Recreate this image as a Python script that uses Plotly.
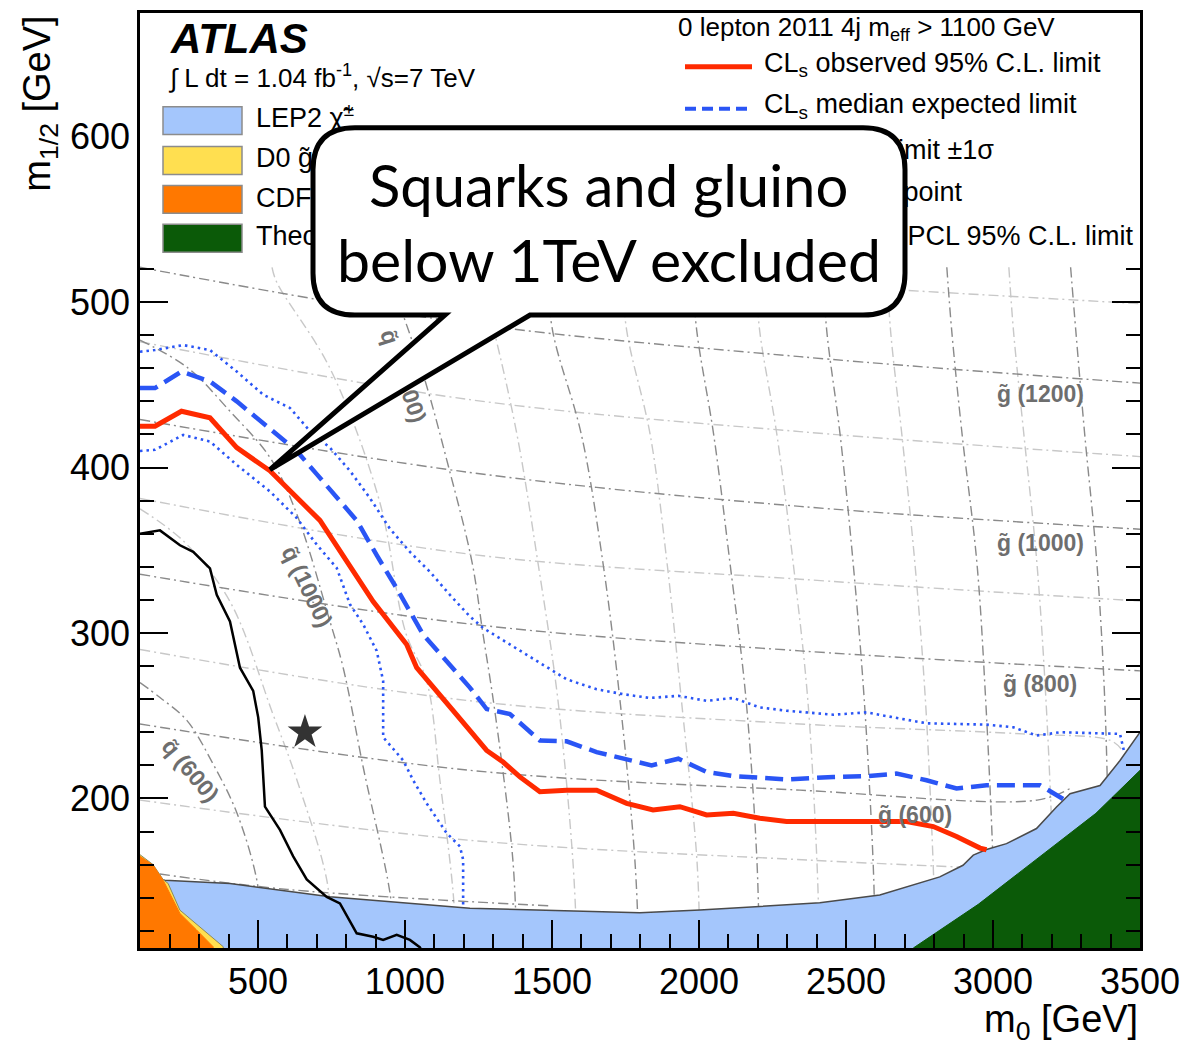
import plotly.graph_objects as go

# ---------------- axes ----------------
X_MIN, X_MAX = 99, 3500
Y_MIN, Y_MAX = 109.6, 674.7
X_MAJOR = [500, 1000, 1500, 2000, 2500, 3000, 3500]
X_MINOR = [v for v in range(200, 3500, 100) if v % 500]
Y_MAJOR = [200, 300, 400, 500]
Y_MINOR = [v for v in range(120, 521, 20) if v % 100]

# ---------------- limit contours (m0, m1/2 in GeV) ----------------
OBS_M0 = [99, 150, 240, 337, 428, 541, 711, 802, 892, 1006, 1040, 1164, 1278, 1334, 1391, 1459,
          1550, 1652, 1754, 1844, 1935, 2026, 2117, 2207, 2298, 2570, 2706, 2797, 2876, 2956, 2978]
OBS_M12 = [425, 425, 434, 430, 412, 398, 368, 343, 319, 293, 279, 253, 229, 222, 213, 204,
           205, 205, 197, 193, 195, 190, 191, 188, 186, 186, 186, 183, 177, 170, 169]

EXP_M0 = [99, 150, 240, 337, 428, 552, 632, 700, 768, 836, 904, 972, 1062, 1142, 1221, 1278, 1357,
          1459, 1550, 1652, 1754, 1839, 1930, 2026, 2117, 2207, 2298, 2457, 2570, 2672, 2774, 2876,
          2978, 3160, 3245]
EXP_M12 = [448, 448, 458, 452, 440, 422, 410, 396, 382, 368, 347, 327, 299, 283, 267, 254, 251,
           235, 234.5, 228, 224, 220, 224, 216, 213.5, 212.5, 211.5, 213, 213.5, 215, 211, 206,
           208, 208, 199]

UP_M0 = [99, 150, 246, 337, 428, 518, 609, 677, 745, 813, 881, 949, 1017, 1085, 1153, 1221, 1266,
         1357, 1448, 1550, 1652, 1742, 1833, 1930, 2026, 2117, 2207, 2298, 2457, 2570, 2661, 2774,
         2876, 2978, 3069, 3148, 3228, 3330, 3432, 3445]
UP_M12 = [470, 471, 474, 471, 458, 444, 436, 422, 412, 398, 381.5, 363, 349, 337, 323, 310, 303,
          293, 283, 272, 266, 263, 260.7, 262, 259, 260.7, 255, 253, 250.6, 252, 249, 245.4,
          245, 244.6, 243, 238, 240, 239.4, 239, 229]

DN_M0 = [99, 150, 246, 337, 428, 541, 632, 700, 768, 813, 858, 904, 926, 926, 926, 994, 1028,
         1074, 1142, 1187, 1198, 1198]
DN_M12 = [410, 410.7, 419.7, 415.7, 401.6, 385.5, 369.5, 353.4, 339.3, 317.3, 305.2, 289.2, 271,
          253, 237, 223, 211, 197, 179, 171, 163, 134]

PREV_M0 = [99, 167, 235, 280, 337, 360, 405, 439, 484, 501, 513, 524, 575, 620, 666, 734, 779,
           836, 892, 926, 972, 1017, 1051, 1065]
PREV_M12 = [360, 362, 353, 349, 339, 323, 307, 279, 265, 249, 229, 195, 181, 165, 151, 140.5,
            136.6, 118.5, 116.4, 114.5, 117.5, 114.5, 110, 105]

REF_M0 = [660]
REF_M12 = [240]

# ---------------- excluded regions ----------------
LEP_M0 = [99, 184, 405, 745, 1221, 1799, 2003, 2196, 2411, 2615, 2729, 2819, 2898, 2933, 2978,
          3046, 3148, 3216, 3262, 3364, 3432, 3500]
LEP_M12 = [152, 150.6, 148.6, 140.6, 133.6, 130.9, 132.5, 134.5, 136.9, 141.6, 147.6, 152.6,
           159.6, 165.7, 169.1, 172.7, 181.8, 194.8, 202.8, 207.8, 222.9, 240]
D0_M0 = [99, 143.5, 177.6, 194.7, 234.7, 302.7, 382, 386]
D0_M12 = [166, 160, 151, 148.6, 132.5, 122.5, 110.4, 100]
CDF_M0 = [99, 143.5, 177.6, 234.7, 291.5, 347.6, 352]
CDF_M12 = [165, 159.6, 150.6, 130.5, 120.5, 110.4, 100]
THEO_M0 = [2722, 2729, 2950, 3160, 3350, 3500]
THEO_M12 = [100, 109.6, 136, 165, 191, 217]

# ---------------- squark iso-mass lines ----------------
SQ600_M0 = [99, 167, 259, 347, 429, 497, 510]
SQ600_M12 = [270, 261, 247, 221, 191, 150, 125]
SQ800_M0 = [99, 250, 405, 551, 633, 735, 750]
SQ800_M12 = [375, 355, 319, 251, 211, 150, 115]
SQ1000_M0 = [99, 263, 405, 541, 632, 745, 790, 858, 949, 965]
SQ1000_M12 = [477, 460, 434, 406, 372, 307, 279, 219, 143, 112]
SQ1200_M0 = [548, 564, 745, 913, 1003, 1074, 1119, 1163, 1175]
SQ1200_M12 = [521, 512, 460, 380, 300, 271, 211, 145, 110]
SQ1400_M0 = [935, 1059, 1149, 1228, 1265, 1308, 1367, 1380]
SQ1400_M12 = [521, 458, 400, 343, 300, 250, 163, 110]
SQ_LEVELS = [521, 482, 420, 343, 260, 163, 110]
SQ1600_M0 = [1247, 1304, 1381, 1452, 1520, 1571, 1585]
SQ1800_M0 = [1480, 1503, 1600, 1673, 1731, 1782, 1795]
SQ2000_M0 = [1735, 1755, 1834, 1891, 1940, 1993, 2003]
SQ2200_M0 = [1975, 1993, 2050, 2105, 2160, 2197, 2205]
SQ2400_M0 = [2190, 2207, 2265, 2320, 2370, 2401, 2410]
SQ2600_M0 = [2420, 2435, 2480, 2524, 2562, 2592, 2600]
SQ2800_M0 = [2638, 2652, 2690, 2734, 2770, 2796, 2805]
SQ3000_M0 = [2843, 2860, 2895, 2945, 2975, 3000, 3008]
SQ3200_M0 = [3054, 3070, 3105, 3149, 3180, 3204, 3212]
SQ3400_M0 = [3264, 3282, 3312, 3353, 3380, 3395, 3402]

# ---------------- gluino iso-mass lines ----------------
GL_M0 = [99, 1221, 2343, 3500]
GL800_M12 = [335.5, 305.4, 289.2, 277.1]
GL900_M12 = [381.3, 347.6, 332.5, 319.3]
GL1000_M12 = [429, 397, 376.5, 362.7]
GL1100_M12 = [476, 441, 421.7, 406.6]
GL1200_M12 = [521, 487, 467, 451]
GL1300_M0 = [1833, 2343, 2616, 3500]
GL1300_M12 = [521, 511, 508, 499]
GL700_M0 = [99, 1221, 2343, 3100, 3400, 3440]
GL700_M12 = [290, 259, 245, 239, 235, 229]
GL600_M0 = [99, 1221, 2343, 3150, 3262]
GL600_M12 = [245, 217, 205, 199, 206]
GL500_M0 = [99, 1221, 2377, 2890]
GL500_M12 = [199, 174.7, 162.7, 158.5]
GL400_M0 = [99, 600, 1500]
GL400_M12 = [156, 145, 135]

# ---------------- text ----------------
LEFT_LEGEND = ["LEP2 χ\u0303<sup>±</sup>",
               "D0 g\u0303, q\u0303, tan β=3, μ&lt;0, 2.1 fb<sup>-1</sup>",
               "CDF g\u0303, q\u0303, tan β=5, μ&lt;0, 2 fb<sup>-1</sup>",
               "Theoretically excluded"]
LEFT_COLORS = ["#a4c6fc", "#ffdf50", "#ff7800", "#0b5a08"]
RIGHT_LEGEND = ["CL<sub>s</sub> observed 95% C.L. limit",
                "CL<sub>s</sub> median expected limit",
                "CL<sub>s</sub> expected limit ±1σ",
                "Reference point",
                "ATLAS 2010 PCL 95% C.L. limit"]

FONT = "Liberation Sans, Arial, sans-serif"
DARK = "#8a8a8a"
LIGHT = "#c8c8c8"
GDASH = "10px,4px,2px,4px"
RED = "#ff2a00"
BLUE = "#2a55f5"

# plot frame in page pixels (used only to place legend decorations)
FRAME_L, FRAME_R, FRAME_T, FRAME_B = 140, 1140, 10, 948


def px_x(px):
    return (px - FRAME_L) / (FRAME_R - FRAME_L)


def px_y(py):
    return (FRAME_B - py) / (FRAME_B - FRAME_T)


def dx(px):
    return X_MIN + px_x(px) * (X_MAX - X_MIN)


def dy(py):
    return Y_MIN + px_y(py) * (Y_MAX - Y_MIN)


fig = go.Figure()


def gray(m0, m12, dark):
    fig.add_trace(go.Scatter(x=m0, y=m12, mode="lines", line_shape="spline",
                             line=dict(color=DARK if dark else LIGHT, width=1.4, dash=GDASH),
                             hoverinfo="skip", showlegend=False))


# light lines first, dark on top
for m0, m12 in [(SQ800_M0, SQ800_M12), (SQ1200_M0, SQ1200_M12), (SQ1600_M0, SQ_LEVELS),
                (SQ2000_M0, SQ_LEVELS), (SQ2400_M0, SQ_LEVELS), (SQ2800_M0, SQ_LEVELS),
                (SQ3200_M0, SQ_LEVELS), (GL500_M0, GL500_M12), (GL700_M0, GL700_M12),
                (GL_M0, GL900_M12), (GL_M0, GL1100_M12), (GL1300_M0, GL1300_M12)]:
    gray(m0, m12, False)
for m0, m12 in [(SQ600_M0, SQ600_M12), (SQ1000_M0, SQ1000_M12), (SQ1400_M0, SQ1400_M12),
                (SQ1800_M0, SQ_LEVELS), (SQ2200_M0, SQ_LEVELS), (SQ2600_M0, SQ_LEVELS),
                (SQ3000_M0, SQ_LEVELS), (SQ3400_M0, SQ_LEVELS), (GL400_M0, GL400_M12),
                (GL600_M0, GL600_M12), (GL_M0, GL800_M12), (GL_M0, GL1000_M12),
                (GL_M0, GL1200_M12)]:
    gray(m0, m12, True)

# excluded regions
fig.add_trace(go.Scatter(x=LEP_M0 + [X_MAX + 10, X_MAX + 10, X_MIN - 10, X_MIN - 10],
                         y=LEP_M12 + [LEP_M12[-1], Y_MIN - 10, Y_MIN - 10, LEP_M12[0]],
                         mode="lines", fill="toself", fillcolor=LEFT_COLORS[0],
                         line=dict(color="#4a4a4a", width=1.5), hoverinfo="skip"))
fig.add_trace(go.Scatter(x=D0_M0 + [X_MIN - 10], y=D0_M12 + [Y_MIN - 10], mode="lines",
                         fill="toself", fillcolor=LEFT_COLORS[1],
                         line=dict(color="#8a8a60", width=1), hoverinfo="skip"))
fig.add_trace(go.Scatter(x=CDF_M0 + [X_MIN - 10], y=CDF_M12 + [Y_MIN - 10], mode="lines",
                         fill="toself", fillcolor=LEFT_COLORS[2],
                         line=dict(color=LEFT_COLORS[2], width=1), hoverinfo="skip"))
fig.add_trace(go.Scatter(x=THEO_M0 + [X_MAX + 10, X_MAX + 10], y=THEO_M12 + [THEO_M12[-1], Y_MIN - 10],
                         mode="lines", fill="toself", fillcolor=LEFT_COLORS[3],
                         line=dict(color=LEFT_COLORS[3], width=1), hoverinfo="skip"))

# limits
fig.add_trace(go.Scatter(x=PREV_M0, y=PREV_M12, mode="lines",
                         line=dict(color="black", width=2.5), hoverinfo="skip"))
fig.add_trace(go.Scatter(x=UP_M0, y=UP_M12, mode="lines",
                         line=dict(color=BLUE, width=2.6, dash="2.5px,4px"), hoverinfo="skip"))
fig.add_trace(go.Scatter(x=DN_M0, y=DN_M12, mode="lines",
                         line=dict(color=BLUE, width=2.6, dash="2.5px,4px"), hoverinfo="skip"))
fig.add_trace(go.Scatter(x=EXP_M0, y=EXP_M12, mode="lines",
                         line=dict(color=BLUE, width=4.5, dash="18px,8px"), hoverinfo="skip"))
fig.add_trace(go.Scatter(x=OBS_M0, y=OBS_M12, mode="lines",
                         line=dict(color=RED, width=5), hoverinfo="skip"))
fig.add_trace(go.Scatter(x=REF_M0, y=REF_M12, mode="markers",
                         marker=dict(symbol="star", size=26, color="#333333"), hoverinfo="skip"))

# legend items inside the frame (drawn as traces so the callout can cover them)
NOH = dict(hoverinfo="skip", showlegend=False)
fig.add_trace(go.Scatter(x=[dx(685), dx(752)], y=[dy(64)] * 2, mode="lines",
                         line=dict(color=RED, width=5), **NOH))
fig.add_trace(go.Scatter(x=[dx(685), dx(752)], y=[dy(106)] * 2, mode="lines",
                         line=dict(color=BLUE, width=4, dash="11px,6px"), **NOH))
fig.add_trace(go.Scatter(x=[dx(685), dx(752)], y=[dy(150)] * 2, mode="lines",
                         line=dict(color=BLUE, width=2.6, dash="2.5px,4px"), **NOH))
fig.add_trace(go.Scatter(x=[dx(718)], y=[dy(192)], mode="markers",
                         marker=dict(symbol="star", size=22, color="#333333"), **NOH))
fig.add_trace(go.Scatter(x=[dx(685), dx(752)], y=[dy(236)] * 2, mode="lines",
                         line=dict(color="black", width=2.5), **NOH))

LFONT = dict(family=FONT, size=27, color="black")
fig.add_trace(go.Scatter(x=[dx(256)] * 4, y=[dy(118), dy(158), dy(198), dy(236)],
                         mode="text", text=LEFT_LEGEND, textposition="middle right",
                         textfont=LFONT, cliponaxis=False, **NOH))
fig.add_trace(go.Scatter(x=[dx(764)] * 2, y=[dy(62), dy(104)], mode="text",
                         text=RIGHT_LEGEND[:2], textposition="middle right",
                         textfont=LFONT, cliponaxis=False, **NOH))
fig.add_trace(go.Scatter(x=[dx(994), dx(962), dx(1133)],
                         y=[dy(150), dy(192), dy(236)], mode="text",
                         text=RIGHT_LEGEND[2:], textposition="middle left",
                         textfont=LFONT, cliponaxis=False, **NOH))

shapes = []
for i, c in enumerate(LEFT_COLORS):
    yc = [118, 158, 197, 236][i]
    shapes.append(dict(type="rect", xref="paper", yref="paper", layer="above",
                       x0=px_x(163), x1=px_x(242), y0=px_y(yc + 14), y1=px_y(yc - 14),
                       fillcolor=c, line=dict(color="#8c8c8c", width=1.5)))

# speech-bubble callout
BL, BR, BT, BB = px_x(313), px_x(905), px_y(125), px_y(313)
RX, RY = 42 / 1000.0, 42 / 938.0
TL, TR = px_x(445), px_x(530)
TIPX, TIPY = px_x(270), px_y(468)
path = (f"M {BL+RX},{BT} L {BR-RX},{BT} Q {BR},{BT} {BR},{BT-RY} "
        f"L {BR},{BB+RY} Q {BR},{BB} {BR-RX},{BB} L {TR},{BB} L {TIPX},{TIPY} "
        f"L {TL},{BB} L {BL+RX},{BB} Q {BL},{BB} {BL},{BB+RY} L {BL},{BT-RY} "
        f"Q {BL},{BT} {BL+RX},{BT} Z")
shapes.append(dict(type="path", path=path, xref="paper", yref="paper", layer="above",
                   fillcolor="white", line=dict(color="black", width=5)))

GFONT = dict(family=FONT, size=23, color="#6e6e6e")
ann = [
    dict(text="<b><i>ATLAS</i></b>", x=px_x(168), y=px_y(36), xanchor="left", yanchor="middle",
         font=dict(family=FONT, size=42, color="black")),
    dict(text="∫ L dt = 1.04 fb<sup>-1</sup>, √s=7 TeV", x=px_x(166), y=px_y(74),
         xanchor="left", yanchor="middle", font=dict(family=FONT, size=26, color="black")),
    dict(text="0 lepton 2011 4j m<sub>eff</sub> &gt; 1100 GeV", x=px_x(676), y=px_y(26),
         xanchor="left", yanchor="middle", font=dict(family=FONT, size=26, color="black")),
    dict(text="Squarks and gluino", x=px_x(608), y=px_y(182), xanchor="center", yanchor="middle",
         font=dict(family="Lato, sans-serif", size=58, color="black")),
    dict(text="below 1TeV excluded", x=px_x(609), y=px_y(257), xanchor="center", yanchor="middle",
         font=dict(family="Lato, sans-serif", size=59, color="black")),
    dict(text="m<sub>1/2</sub> [GeV]", x=px_x(40), y=px_y(101), xanchor="center", yanchor="middle",
         textangle=-90, font=dict(family=FONT, size=38, color="black")),
    dict(text="m<sub>0</sub> [GeV]", x=1.0, y=px_y(1022), xanchor="right", yanchor="middle",
         font=dict(family=FONT, size=38, color="black")),
    dict(text="600", x=0, xshift=-8, y=600, yref="y", xanchor="right", yanchor="middle",
         font=dict(family=FONT, size=36, color="black")),
]
for a in ann:
    a.setdefault("xref", "paper")
    a.setdefault("yref", "paper")
    a["showarrow"] = False

GL_LABELS = [("<b>g\u0303 (1200)</b>", 3160, 444.6, 0), ("<b>g\u0303 (1000)</b>", 3160, 354.2, 0),
             ("<b>g\u0303 (800)</b>", 3160, 269.3, 0), ("<b>g\u0303 (600)</b>", 2735, 189.8, 0),
             ("<b>q\u0303 (600)</b>", 269, 216.9, 50), ("<b>q\u0303 (1000)</b>", 667, 328.3, 64),
             ("<b>q\u0303</b>", 949, 479, 72), ("<b>00)</b>", 1030, 437, 72)]
for t, x, y, ang in GL_LABELS:
    ann.append(dict(text=t, x=x, y=y, xref="x", yref="y", showarrow=False, textangle=ang,
                    xanchor="center", yanchor="middle", font=GFONT))

AX = dict(ticks="inside", ticklen=28, tickwidth=2, tickcolor="black", showline=True,
          linecolor="black", linewidth=2.5, showgrid=False, zeroline=False,
          tickfont=dict(family=FONT, size=36, color="black"))
fig.update_layout(
    width=1198, height=1048, margin=dict(l=140, r=58, t=10, b=100),
    paper_bgcolor="white", plot_bgcolor="white", showlegend=False,
    xaxis=dict(range=[X_MIN, X_MAX], tickmode="array", tickvals=X_MAJOR,
               ticktext=[str(v) for v in X_MAJOR], mirror=True,
               minor=dict(tickmode="array", tickvals=X_MINOR, ticks="inside", ticklen=14,
                          tickwidth=2, tickcolor="black", showgrid=False), **AX),
    yaxis=dict(range=[Y_MIN, Y_MAX], tickmode="array", tickvals=Y_MAJOR,
               ticktext=[str(v) for v in Y_MAJOR], mirror="ticks",
               minor=dict(tickmode="array", tickvals=Y_MINOR, ticks="inside", ticklen=14,
                          tickwidth=2, tickcolor="black", showgrid=False), **AX),
    shapes=shapes, annotations=ann,
)

fig.write_html("out.html")
